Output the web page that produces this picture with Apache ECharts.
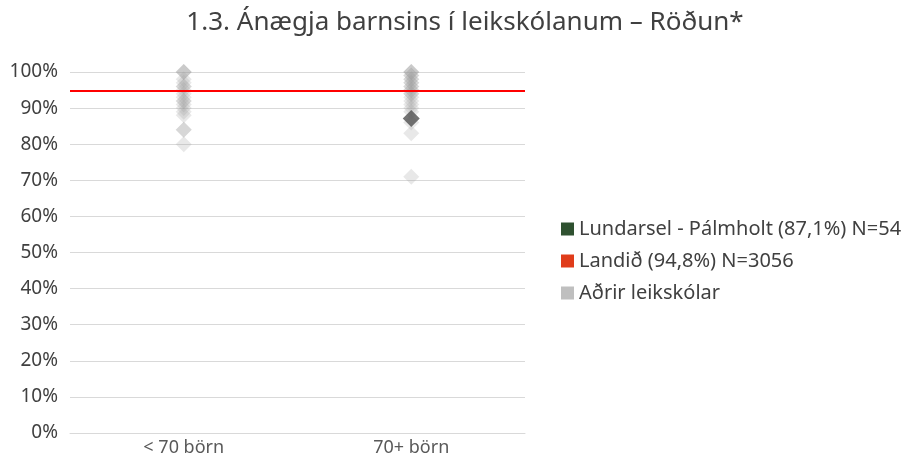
<!DOCTYPE html>
<html>
<head>
<meta charset="utf-8">
<script src="https://cdn.jsdelivr.net/npm/echarts@6/dist/echarts.min.js"></script>
<style>
  html, body { margin: 0; padding: 0; background: #fff; }
  #chart { width: 902px; height: 457px; }
</style>
</head>
<body>
<div id="chart"></div>
<script>
// flokkar (stærð leikskóla)
const categories = ['< 70 börn', '70+ börn']
const yTicks = [0, 10, 20, 30, 40, 50, 60, 70, 80, 90, 100]

// aðrir leikskólar, hlutfall ánægðra
const othersSmall = [100, 100, 100, 98, 97, 96, 96, 95, 94, 93, 92, 92, 91, 90, 89, 88, 84, 84, 80]
const othersLarge = [100, 100, 100, 99, 99, 98, 98, 97, 97, 96, 96, 95, 95, 94, 94, 93, 92, 91, 90, 89, 86, 83, 71]

// leikskólinn sjálfur og landið
const schoolName = 'Lundarsel - Pálmholt (87,1%) N=54'
const schoolPoint = [1, 87.1]
const countryName = 'Landið (94,8%) N=3056'
const countryValue = 94.8
const othersName = 'Aðrir leikskólar'

const othersData = othersSmall.map(v => [0, v]).concat(othersLarge.map(v => [1, v]))

const chart = echarts.init(document.getElementById('chart'))

const font = '"Noto Sans", "DejaVu Sans", sans-serif'

const option = {
  animation: false,
  textStyle: { fontFamily: font },
  title: {
    text: '1.3. Ánægja barnsins í leikskólanum – Röðun*',
    left: 460,
    top: 5,
    textAlign: 'center',
    textStyle: { fontFamily: font, fontSize: 26, fontWeight: 'normal', color: '#404040' }
  },
  legend: {
    orient: 'vertical',
    left: 556,
    top: 214,
    itemWidth: 13,
    itemHeight: 13,
    itemGap: 12,
    icon: 'rect',
    textStyle: { fontFamily: font, fontSize: 20, color: '#404040' },
    data: [
      { name: schoolName, itemStyle: { color: '#2f5130', opacity: 1 } },
      { name: countryName, itemStyle: { color: '#e03c1a', opacity: 1 } },
      { name: othersName, itemStyle: { color: '#bfbfbf', opacity: 1 } }
    ]
  },
  grid: { left: 70, right: 377, top: 72, bottom: 24 },
  xAxis: {
    type: 'category',
    data: categories,
    axisLine: { lineStyle: { color: '#d9d9d9', width: 1 } },
    axisTick: { show: false },
    axisLabel: { fontFamily: font, fontSize: 18, color: '#595959', margin: 6 }
  },
  yAxis: {
    type: 'value',
    min: 0,
    max: 100,
    interval: 10,
    axisLine: { show: false },
    axisTick: { show: false },
    axisLabel: {
      fontFamily: font, fontSize: 19, color: '#404040', margin: 12,
      padding: [0, 0, 9, 0],
      formatter: v => (yTicks.includes(v) ? v + '%' : '')
    },
    splitLine: { lineStyle: { color: '#d9d9d9', width: 1 } }
  },
  series: [
    {
      name: countryName,
      type: 'line',
      data: [],
      itemStyle: { color: '#e03c1a' },
      z: 1,
      markLine: {
        silent: true,
        symbol: 'none',
        label: { show: false },
        lineStyle: { color: '#ff0000', width: 2, type: 'solid' },
        data: [{ yAxis: countryValue }]
      }
    },
    {
      name: othersName,
      type: 'scatter',
      symbol: 'diamond',
      symbolSize: 16,
      data: othersData,
      itemStyle: { color: 'rgba(160,160,160,0.3)' },
      z: 3
    },
    {
      name: schoolName,
      type: 'scatter',
      symbol: 'diamond',
      symbolSize: 17,
      data: [schoolPoint],
      itemStyle: { color: '#505050' },
      z: 4
    }
  ]
}

chart.setOption(option)
</script>
</body>
</html>
